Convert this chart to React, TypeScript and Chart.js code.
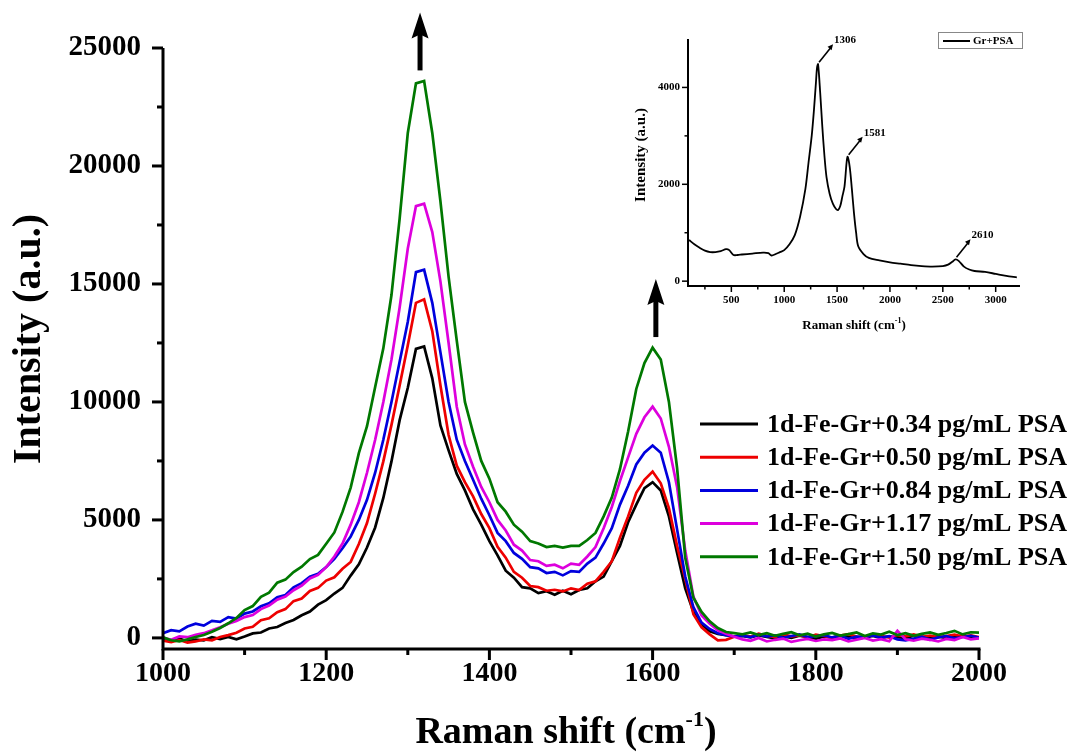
import React, { useEffect, useRef } from "react";
import { Chart, registerables } from "chart.js";
Chart.register(...registerables);

const FONT = '"Liberation Serif", "Times New Roman", Times, serif';

// ---------- main chart data ----------
const wavenumbers = [
  1000, 1010, 1020, 1030, 1040, 1050, 1060, 1070, 1080, 1090,
  1100, 1110, 1120, 1130, 1140, 1150, 1160, 1170, 1180, 1190,
  1200, 1210, 1220, 1230, 1240, 1250, 1260, 1270, 1280, 1290,
  1300, 1310, 1320, 1330, 1340, 1350, 1360, 1370, 1380, 1390,
  1400, 1410, 1420, 1430, 1440, 1450, 1460, 1470, 1480, 1490,
  1500, 1510, 1520, 1530, 1540, 1550, 1560, 1570, 1580, 1590,
  1600, 1610, 1620, 1630, 1640, 1650, 1660, 1670, 1680, 1690,
  1700, 1710, 1720, 1730, 1740, 1750, 1760, 1770, 1780, 1790,
  1800, 1810, 1820, 1830, 1840, 1850, 1860, 1870, 1880, 1890,
  1900, 1910, 1920, 1930, 1940, 1950, 1960, 1970, 1980, 1990,
  2000,
];

const psa034 = [
  -60, -110, -30, -140, -70, -100, 30, -50, 40, -60,
  60, 190, 230, 400, 460, 630, 760, 960, 1120, 1410,
  1600, 1880, 2120, 2640, 3120, 3830, 4680, 5930, 7480, 9230,
  10600, 12250, 12350, 11000, 9000, 7950, 6950, 6250, 5450, 4800,
  4100, 3500, 2850, 2550, 2150, 2100, 1900, 1980, 1830, 2000,
  1850, 2030, 2100, 2400, 2600, 3250, 3900, 4900, 5650, 6350,
  6600, 6250, 5150, 3600, 2100, 1100, 560, 280, 170, 120,
  60, 80, 20, 110, 40, -20, 70, 0, 90, 30,
  -40, 60, 10, 100, 50, -30, 20, 80, 0, 60,
  30, -10, 90, 40, 10, 70, -20, 50, 100, 30,
  0,
];

const psa050 = [
  -120, -180, -90, -200, -150, -60, -100, 40, 120, 220,
  400, 470, 750, 830, 1090, 1220, 1560, 1670, 1990, 2120,
  2430, 2570, 2930, 3220, 3980, 4870, 6120, 7480, 9030, 10700,
  12400, 14200, 14350, 13000, 10700, 8600, 7300, 6600, 6000, 5250,
  4650, 3860, 3400, 2800, 2550, 2200, 2150, 2000, 2040, 1970,
  2100, 2030, 2300, 2400, 2800, 3250, 4250, 5150, 6150, 6700,
  7050, 6550, 5500, 3900, 2500, 1000, 450, 150, -100, -80,
  50, 120, 60, 180, 90, 30, 150, 70, 110, 20,
  140, 80, 0, 100, 160, 60, 40, 130, 90, 10,
  120, 70, 150, 50, 100, 20, 80, 140, 60, 110,
  30,
];

const psa084 = [
  200, 330, 280, 480, 600, 520, 720, 680, 880, 820,
  1030, 1120, 1340, 1470, 1720, 1820, 2140, 2320, 2590, 2720,
  3000, 3350, 3800, 4300, 5000, 5850, 7000, 8400, 10000, 11700,
  13400, 15500, 15600, 14200, 12100, 10000, 8400, 7500, 6700, 5900,
  5200, 4450, 4100, 3600, 3350, 3000, 2950, 2750, 2800, 2650,
  2830, 2800, 3150, 3400, 4000, 4650, 5650, 6450, 7350, 7850,
  8150, 7850, 6600, 4600, 2600, 1300, 650, 380, 200, 120,
  60, 90, 30, 140, 60, 110, 0, 80, 150, 40,
  70, 120, 20, 90, -40, 60, 30, 100, 10, 70,
  -60, -100, -30, 50, -80, 20, 80, -20, 40, 90,
  10,
];

const psa117 = [
  20, -80, 60, 30, 130, 200, 320, 450, 600, 720,
  880, 970, 1220, 1370, 1620, 1750, 2020, 2220, 2520, 2670,
  3000, 3450, 4000, 4800, 5750, 7000, 8400, 10000, 11800, 14000,
  16500, 18300, 18400, 17200, 15100, 12500, 9800, 8200, 7250, 6400,
  5750, 5000, 4550, 3950, 3700, 3300, 3250, 3050, 3100, 2950,
  3150, 3100, 3450, 3850, 4650, 5550, 6650, 7650, 8650, 9350,
  9800, 9300, 8100, 6400, 3700, 1750, 950, 600, 320, 180,
  50, -60, -120, 0, -150, -80, -30, -170, -100, -40,
  -130, -60, -90, -20, -150, -70, 0, -110, -50, -140,
  300, -60, -120, -30, -80, -150, -40, -90, 40, -60,
  -20,
];

const psa150 = [
  30, -100, -150, -60, 40, 120, 260, 420, 620, 850,
  1180, 1350, 1740, 1920, 2340, 2470, 2790, 3020, 3340, 3520,
  3990, 4470, 5340, 6370, 7830, 8970, 10630, 12270, 14530, 17770,
  21400, 23500, 23600, 21400, 18500, 15300, 12600, 10000, 8700, 7500,
  6750, 5750, 5350, 4800, 4500, 4100, 4000, 3850, 3900, 3830,
  3900, 3900, 4150, 4450, 5150, 5950, 7150, 8750, 10550, 11650,
  12300, 11800, 10000, 7200, 3400, 1700, 1100, 700, 420, 250,
  200, 150, 230, 120, 200, 90, 170, 240, 110, 180,
  60, 150, 210, 100, 160, 230, 80, 190, 140, 260,
  120, 200, 90, 170, 230, 130, 210, 300, 150, 240,
  220,
];

const seriesValues = [psa034, psa050, psa084, psa117, psa150];
const seriesLabels = [
  "1d-Fe-Gr+0.34 pg/mL PSA",
  "1d-Fe-Gr+0.50 pg/mL PSA",
  "1d-Fe-Gr+0.84 pg/mL PSA",
  "1d-Fe-Gr+1.17 pg/mL PSA",
  "1d-Fe-Gr+1.50 pg/mL PSA",
];
const seriesColors = ["#000000", "#ee0000", "#0000dd", "#dd00dd", "#007800"];

const xMajorTicks = [1000, 1200, 1400, 1600, 1800, 2000];
const xMinorTicks = [1100, 1300, 1500, 1700, 1900];
const yMajorTicks = [0, 5000, 10000, 15000, 20000, 25000];
const yMinorTicks = [2500, 7500, 12500, 17500, 22500];
const arrowX = [1315, 1604];
const arrowBaseY = [24050, 12750];

// ---------- inset data ----------
const insetX = [
  100, 150, 200, 250, 300, 350, 400, 450, 480, 520, 560, 600, 700, 800, 850, 880,
  920, 960, 1000, 1050, 1100, 1150, 1200, 1230, 1260, 1280, 1300, 1310, 1320, 1340,
  1360, 1380, 1400, 1430, 1460, 1490, 1510, 1530, 1550, 1570, 1590, 1600, 1620, 1640,
  1660, 1680, 1700, 1750, 1800, 1900, 2000, 2100, 2200, 2300, 2400, 2500, 2550, 2590,
  2620, 2650, 2700, 2750, 2800, 2900, 3000, 3100, 3200,
];
const insetY = [
  850, 760, 690, 630, 600, 600, 620, 660, 640, 540, 540, 550, 570, 590, 580, 530,
  560, 600, 640, 760, 950, 1330, 1900, 2450, 3000, 3500, 4100, 4400, 4480, 3900,
  3200, 2600, 2150, 1800, 1600, 1490, 1470, 1550, 1750, 1950, 2450, 2570, 2350, 1900,
  1400, 1000, 720, 560, 480, 430, 390, 360, 330, 310, 300, 310, 340, 400,
  450, 420, 300, 240, 210, 190, 150, 110, 80,
];
const insetXTicks = [500, 1000, 1500, 2000, 2500, 3000];
const insetXMinor = [250, 750, 1250, 1750, 2250, 2750];
const insetYTicks = [0, 2000, 4000];
const insetYMinor = [1000, 3000];
const insetPeakX = [1320, 1600, 2620];
const insetPeakY = [4480, 2570, 450];
const insetPeakLabels = ["1306", "1581", "2610"];
const insetLegend = "Gr+PSA";

function line(ctx: CanvasRenderingContext2D, x1: number, y1: number, x2: number, y2: number) {
  ctx.beginPath();
  ctx.moveTo(x1, y1);
  ctx.lineTo(x2, y2);
  ctx.stroke();
}

const mainDecor = {
  id: "mainDecor",
  afterDraw(chart: any) {
    const { ctx, chartArea: ca } = chart;
    const xs = chart.scales.x;
    const ys = chart.scales.y;
    ctx.save();
    ctx.strokeStyle = "#000";
    ctx.fillStyle = "#000";
    ctx.lineWidth = 3;
    ctx.beginPath();
    ctx.moveTo(ca.left, ca.top);
    ctx.lineTo(ca.left, ca.bottom);
    ctx.lineTo(ca.right + 1.5, ca.bottom);
    ctx.stroke();
    yMajorTicks.forEach((v) => {
      const p = ys.getPixelForValue(v);
      line(ctx, ca.left - 11, p, ca.left, p);
    });
    yMinorTicks.forEach((v) => {
      const p = ys.getPixelForValue(v);
      line(ctx, ca.left - 6, p, ca.left, p);
    });
    xMajorTicks.forEach((v) => {
      const p = xs.getPixelForValue(v);
      line(ctx, p, ca.bottom, p, ca.bottom + 11);
    });
    xMinorTicks.forEach((v) => {
      const p = xs.getPixelForValue(v);
      line(ctx, p, ca.bottom, p, ca.bottom + 6);
    });

    // arrows
    arrowX.forEach((v, i) => {
      const px = xs.getPixelForValue(v);
      const base = ys.getPixelForValue(arrowBaseY[i]);
      const tip = base - 58;
      ctx.lineWidth = 5;
      line(ctx, px, base, px, tip + 18);
      ctx.beginPath();
      ctx.moveTo(px, tip);
      ctx.lineTo(px - 8.5, tip + 26);
      ctx.lineTo(px, tip + 22);
      ctx.lineTo(px + 8.5, tip + 26);
      ctx.closePath();
      ctx.fill();
    });

    // axis titles
    ctx.textBaseline = "middle";
    ctx.textAlign = "center";
    ctx.font = `bold 40px ${FONT}`;
    ctx.save();
    ctx.translate(30, 339);
    ctx.rotate(-Math.PI / 2);
    ctx.fillText("Intensity (a.u.)", 0, 0);
    ctx.restore();

    ctx.textAlign = "left";
    ctx.textBaseline = "alphabetic";
    const t1 = "Raman shift (cm";
    const t2 = "-1";
    const t3 = ")";
    ctx.font = `bold 38px ${FONT}`;
    const w1 = ctx.measureText(t1).width;
    const w3 = ctx.measureText(t3).width;
    ctx.font = `bold 22px ${FONT}`;
    const w2 = ctx.measureText(t2).width;
    const sx = 566 - (w1 + w2 + w3) / 2;
    const base = 743;
    ctx.font = `bold 38px ${FONT}`;
    ctx.fillText(t1, sx, base);
    ctx.fillText(t3, sx + w1 + w2, base);
    ctx.font = `bold 22px ${FONT}`;
    ctx.fillText(t2, sx + w1, base - 17);

    // legend
    ctx.font = `bold 26px ${FONT}`;
    ctx.textBaseline = "middle";
    ctx.lineWidth = 3;
    seriesLabels.forEach((lab, i) => {
      const y = 424 + i * 33.2;
      ctx.strokeStyle = seriesColors[i];
      line(ctx, 700, y, 758, y);
      ctx.fillStyle = "#000";
      ctx.fillText(lab, 767, y + 1);
    });
    ctx.restore();
  },
};

const insetDecor = {
  id: "insetDecor",
  afterDraw(chart: any) {
    const { ctx, chartArea: ca } = chart;
    const xs = chart.scales.x;
    const ys = chart.scales.y;
    ctx.save();
    ctx.strokeStyle = "#000";
    ctx.fillStyle = "#000";
    ctx.lineWidth = 2;
    ctx.beginPath();
    ctx.moveTo(ca.left, ca.top);
    ctx.lineTo(ca.left, ca.bottom);
    ctx.lineTo(ca.right, ca.bottom);
    ctx.stroke();
    ctx.lineWidth = 1.5;
    insetYTicks.forEach((v) => {
      const p = ys.getPixelForValue(v);
      line(ctx, ca.left - 6, p, ca.left, p);
    });
    insetYMinor.forEach((v) => {
      const p = ys.getPixelForValue(v);
      line(ctx, ca.left - 3.5, p, ca.left, p);
    });
    insetXTicks.forEach((v) => {
      const p = xs.getPixelForValue(v);
      line(ctx, p, ca.bottom, p, ca.bottom + 6);
    });
    insetXMinor.forEach((v) => {
      const p = xs.getPixelForValue(v);
      line(ctx, p, ca.bottom, p, ca.bottom + 3.5);
    });

    // peak annotations
    ctx.font = `bold 11px ${FONT}`;
    ctx.textAlign = "left";
    ctx.textBaseline = "middle";
    ctx.lineWidth = 1.6;
    insetPeakX.forEach((v, i) => {
      const px = xs.getPixelForValue(v);
      const py = ys.getPixelForValue(insetPeakY[i]);
      const ex = px + 15;
      const ey = py - 20;
      line(ctx, px + 1, py - 2, ex - 2, ey + 3);
      ctx.beginPath();
      ctx.moveTo(ex, ey);
      ctx.lineTo(ex - 5.5, ey + 2.5);
      ctx.lineTo(ex - 1.5, ey + 6);
      ctx.closePath();
      ctx.fill();
      ctx.fillText(insetPeakLabels[i], ex + 1, ey - 4);
    });

    // titles
    ctx.textAlign = "center";
    ctx.font = `bold 15px ${FONT}`;
    ctx.save();
    ctx.translate(21, 155);
    ctx.rotate(-Math.PI / 2);
    ctx.fillText("Intensity (a.u.)", 0, 0);
    ctx.restore();

    ctx.textAlign = "left";
    ctx.textBaseline = "alphabetic";
    ctx.font = `bold 13px ${FONT}`;
    const t1 = "Raman shift (cm";
    const w1 = ctx.measureText(t1).width;
    const w3 = ctx.measureText(")").width;
    ctx.font = `bold 8px ${FONT}`;
    const w2 = ctx.measureText("-1").width;
    const sx = 234 - (w1 + w2 + w3) / 2;
    const b = 329;
    ctx.font = `bold 13px ${FONT}`;
    ctx.fillText(t1, sx, b);
    ctx.fillText(")", sx + w1 + w2, b);
    ctx.font = `bold 8px ${FONT}`;
    ctx.fillText("-1", sx + w1, b - 6);

    // legend box
    ctx.strokeStyle = "#888";
    ctx.lineWidth = 1;
    ctx.strokeRect(318.5, 32.5, 84, 16);
    ctx.strokeStyle = "#000";
    ctx.lineWidth = 2;
    line(ctx, 323, 41, 350, 41);
    ctx.font = `bold 11px ${FONT}`;
    ctx.textBaseline = "middle";
    ctx.fillText(insetLegend, 353, 41.5);
    ctx.restore();
  },
};

export default function App() {
  const mainRef = useRef<HTMLCanvasElement>(null);
  const insetRef = useRef<HTMLCanvasElement>(null);

  useEffect(() => {
    document.body.style.margin = "0";
    const datasets = seriesValues.map((vals, i) => ({
      label: seriesLabels[i],
      data: wavenumbers.map((x, j) => ({ x, y: vals[j] })),
      borderColor: seriesColors[i],
      backgroundColor: seriesColors[i],
      borderWidth: 2.7,
      pointRadius: 0,
      tension: 0,
      order: seriesValues.length - i,
    }));

    const tickFont = { family: FONT, size: 28, weight: "bold" as const };
    const main = new Chart(mainRef.current!, {
      type: "line",
      data: { datasets },
      options: {
        responsive: false,
        animation: false,
        devicePixelRatio: 1,
        layout: { padding: { top: 48, right: 96, left: 0, bottom: 0 } },
        plugins: { legend: { display: false }, tooltip: { enabled: false } },
        scales: {
          x: {
            type: "linear",
            min: 1000,
            max: 2000,
            afterBuildTicks: (s: any) => {
              s.ticks = xMajorTicks.map((v) => ({ value: v }));
            },
            afterFit: (s: any) => {
              s.height = 105;
            },
            grid: { display: false, drawTicks: false },
            border: { display: false },
            ticks: {
              font: tickFont,
              color: "#000",
              padding: 8,
              maxRotation: 0,
              autoSkip: false,
              callback: (v: any) => String(v),
            },
          },
          y: {
            type: "linear",
            min: -470,
            max: 25000,
            afterBuildTicks: (s: any) => {
              s.ticks = yMajorTicks.map((v) => ({ value: v }));
            },
            afterFit: (s: any) => {
              s.width = 163;
            },
            grid: { display: false, drawTicks: false },
            border: { display: false },
            ticks: {
              font: { family: FONT, size: 29, weight: "bold" as const },
              color: "#000",
              padding: 22,
              autoSkip: false,
              callback: (v: any) => String(v),
            },
          },
        },
      },
      plugins: [mainDecor],
    });

    const insetFont = { family: FONT, size: 11, weight: "bold" as const };
    const inset = new Chart(insetRef.current!, {
      type: "line",
      data: {
        datasets: [
          {
            label: insetLegend,
            data: insetX.map((x, j) => ({ x, y: insetY[j] })),
            borderColor: "#000",
            borderWidth: 1.8,
            pointRadius: 0,
            tension: 0.3,
          },
        ],
      },
      options: {
        responsive: false,
        animation: false,
        devicePixelRatio: 1,
        layout: { padding: { top: 39, right: 55, left: 0, bottom: 0 } },
        plugins: { legend: { display: false }, tooltip: { enabled: false } },
        scales: {
          x: {
            type: "linear",
            min: 90,
            max: 3230,
            afterBuildTicks: (s: any) => {
              s.ticks = insetXTicks.map((v) => ({ value: v }));
            },
            afterFit: (s: any) => {
              s.height = 59;
            },
            grid: { display: false, drawTicks: false },
            border: { display: false },
            ticks: {
              font: insetFont,
              color: "#000",
              padding: 8,
              maxRotation: 0,
              autoSkip: false,
              callback: (v: any) => String(v),
            },
          },
          y: {
            type: "linear",
            min: -100,
            max: 5000,
            afterBuildTicks: (s: any) => {
              s.ticks = insetYTicks.map((v) => ({ value: v }));
            },
            afterFit: (s: any) => {
              s.width = 68;
            },
            grid: { display: false, drawTicks: false },
            border: { display: false },
            ticks: {
              font: insetFont,
              color: "#000",
              padding: 8,
              autoSkip: false,
              callback: (v: any) => String(v),
            },
          },
        },
      },
      plugins: [insetDecor],
    });

    return () => {
      main.destroy();
      inset.destroy();
    };
  }, []);

  return (
    <div style={{ position: "absolute", left: 0, top: 0, width: 1075, height: 754, background: "#fff" }}>
      <canvas ref={mainRef} width={1075} height={754} style={{ position: "absolute", left: 0, top: 0 }} />
      <canvas ref={insetRef} width={455} height={345} style={{ position: "absolute", left: 620, top: 0 }} />
    </div>
  );
}
